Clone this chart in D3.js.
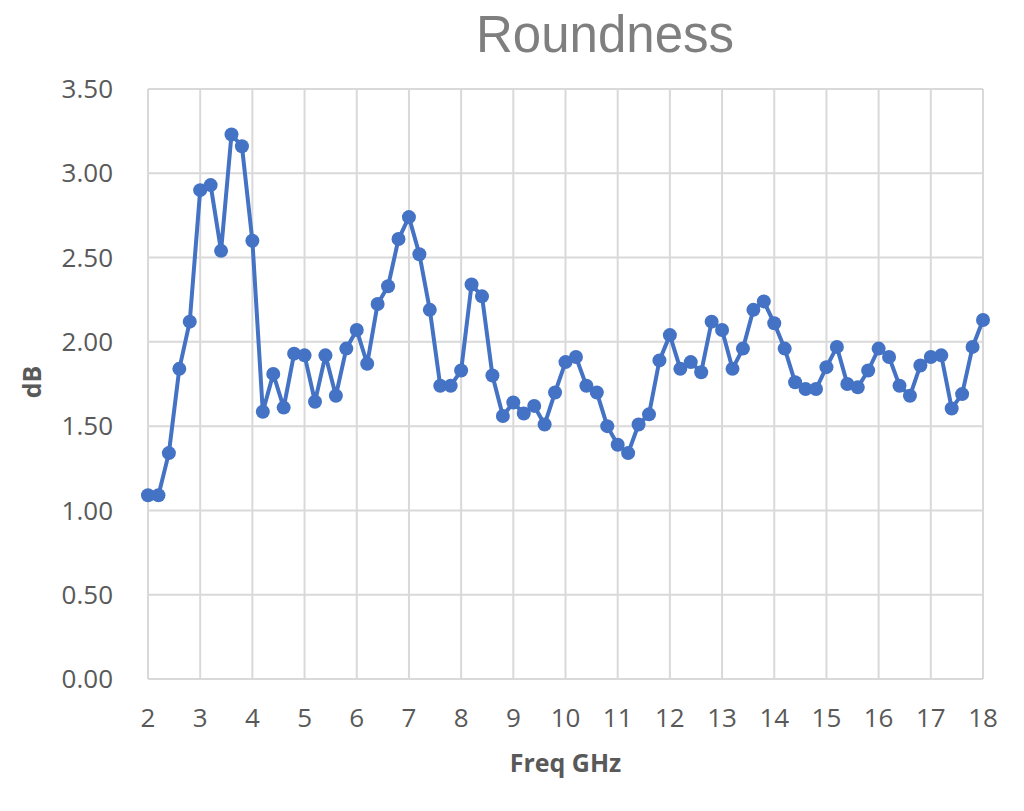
<!DOCTYPE html>
<html>
<head>
    <meta charset="UTF-8">
    <title>Roundness</title>
    <style>
        body {
            margin: 0;
            background: #fff;
        }

        .grid line {
            stroke: #d9d9d9;
            stroke-width: 2px;
        }

        .tick-label {
            font-family: "Open Sans", sans-serif;
            font-size: 26px;
            fill: #595959;
        }

        .axis-title {
            font-family: "Open Sans", sans-serif;
            font-size: 25px;
            font-weight: bold;
            fill: #595959;
        }

        .line {
            fill: none;
            stroke: #4472c4;
            stroke-width: 4px;
            stroke-linejoin: round;
        }
    </style>
</head>
<body>
<svg width="1024" height="811"></svg>
<script src="https://cdn.jsdelivr.net/npm/d3@7"></script>
<script>

    // frequency points (GHz)
    var freq = [2.0, 2.2, 2.4, 2.6, 2.8, 3.0, 3.2, 3.4, 3.6, 3.8,
        4.0, 4.2, 4.4, 4.6, 4.8, 5.0, 5.2, 5.4, 5.6, 5.8,
        6.0, 6.2, 6.4, 6.6, 6.8, 7.0, 7.2, 7.4, 7.6, 7.8,
        8.0, 8.2, 8.4, 8.6, 8.8, 9.0, 9.2, 9.4, 9.6, 9.8,
        10.0, 10.2, 10.4, 10.6, 10.8, 11.0, 11.2, 11.4, 11.6, 11.8,
        12.0, 12.2, 12.4, 12.6, 12.8, 13.0, 13.2, 13.4, 13.6, 13.8,
        14.0, 14.2, 14.4, 14.6, 14.8, 15.0, 15.2, 15.4, 15.6, 15.8,
        16.0, 16.2, 16.4, 16.6, 16.8, 17.0, 17.2, 17.4, 17.6, 17.8,
        18.0];

    // roundness (dB)
    var roundness = [1.09, 1.09, 1.34, 1.84, 2.12, 2.90, 2.93, 2.54, 3.23, 3.16,
        2.60, 1.585, 1.81, 1.61, 1.93, 1.92, 1.645, 1.92, 1.68, 1.96,
        2.07, 1.87, 2.225, 2.33, 2.61, 2.74, 2.52, 2.19, 1.74, 1.74,
        1.83, 2.34, 2.27, 1.80, 1.56, 1.64, 1.575, 1.62, 1.51, 1.70,
        1.88, 1.91, 1.74, 1.70, 1.50, 1.39, 1.34, 1.51, 1.57, 1.89,
        2.04, 1.84, 1.88, 1.82, 2.12, 2.07, 1.84, 1.96, 2.19, 2.24,
        2.11, 1.96, 1.76, 1.72, 1.72, 1.85, 1.97, 1.75, 1.73, 1.83,
        1.96, 1.91, 1.74, 1.68, 1.86, 1.91, 1.92, 1.605, 1.69, 1.97,
        2.13];

    var xTicks = [2, 3, 4, 5, 6, 7, 8, 9, 10, 11, 12, 13, 14, 15, 16, 17, 18];
    var yTicks = [0, 0.5, 1.0, 1.5, 2.0, 2.5, 3.0, 3.5];

    var svg = d3.select("svg");
    var margin = {top: 89, right: 41, bottom: 132, left: 148};
    var width = +svg.attr("width") - margin.left - margin.right;
    var height = +svg.attr("height") - margin.top - margin.bottom;
    var g = svg.append("g").attr("transform", "translate(" + margin.left + "," + margin.top + ")");

    var x = d3.scaleLinear().domain([2, 18]).range([0, width]);
    var y = d3.scaleLinear().domain([0, 3.5]).range([height, 0]);

    // grid
    var grid = g.append("g").attr("class", "grid");
    grid.selectAll(".hline")
        .data(yTicks)
        .enter().append("line")
        .attr("x1", 0).attr("x2", width)
        .attr("y1", function (d) { return y(d); })
        .attr("y2", function (d) { return y(d); });
    grid.selectAll(".vline")
        .data(xTicks)
        .enter().append("line")
        .attr("x1", function (d) { return x(d); })
        .attr("x2", function (d) { return x(d); })
        .attr("y1", 0).attr("y2", height);

    // tick labels
    g.selectAll(".ylab")
        .data(yTicks)
        .enter().append("text")
        .attr("class", "tick-label")
        .attr("x", -35)
        .attr("y", function (d) { return y(d); })
        .attr("dy", "0.35em")
        .attr("text-anchor", "end")
        .text(function (d) { return d3.format(".2f")(d); });

    g.selectAll(".xlab")
        .data(xTicks)
        .enter().append("text")
        .attr("class", "tick-label")
        .attr("x", function (d) { return x(d); })
        .attr("y", height + 39)
        .attr("dy", "0.35em")
        .attr("text-anchor", "middle")
        .text(function (d) { return d; });

    // axis titles
    g.append("text")
        .attr("class", "axis-title")
        .attr("transform", "translate(-116," + (height / 2 - 2) + ") rotate(-90)")
        .attr("dy", "0.35em")
        .attr("text-anchor", "middle")
        .text("dB");

    g.append("text")
        .attr("class", "axis-title")
        .attr("x", width / 2)
        .attr("y", height + 93)
        .attr("text-anchor", "middle")
        .text("Freq GHz");

    // title
    svg.append("text")
        .attr("x", 605)
        .attr("y", 52)
        .attr("text-anchor", "middle")
        .style("font-family", "'Liberation Sans', Arial, sans-serif")
        .style("font-size", "51px")
        .style("fill", "#7f7f7f")
        .text("Roundness");

    var data = freq.map(function (f, i) { return {f: f, v: roundness[i]}; });

    var line = d3.line()
        .x(function (d) { return x(d.f); })
        .y(function (d) { return y(d.v); });

    g.append("path")
        .datum(data)
        .attr("class", "line")
        .attr("d", line);

    g.selectAll(".dot")
        .data(data)
        .enter().append("circle")
        .attr("class", "dot")
        .attr("cx", function (d) { return x(d.f); })
        .attr("cy", function (d) { return y(d.v); })
        .attr("r", 7)
        .attr("fill", "#4472c4");

</script>
</body>
</html>
